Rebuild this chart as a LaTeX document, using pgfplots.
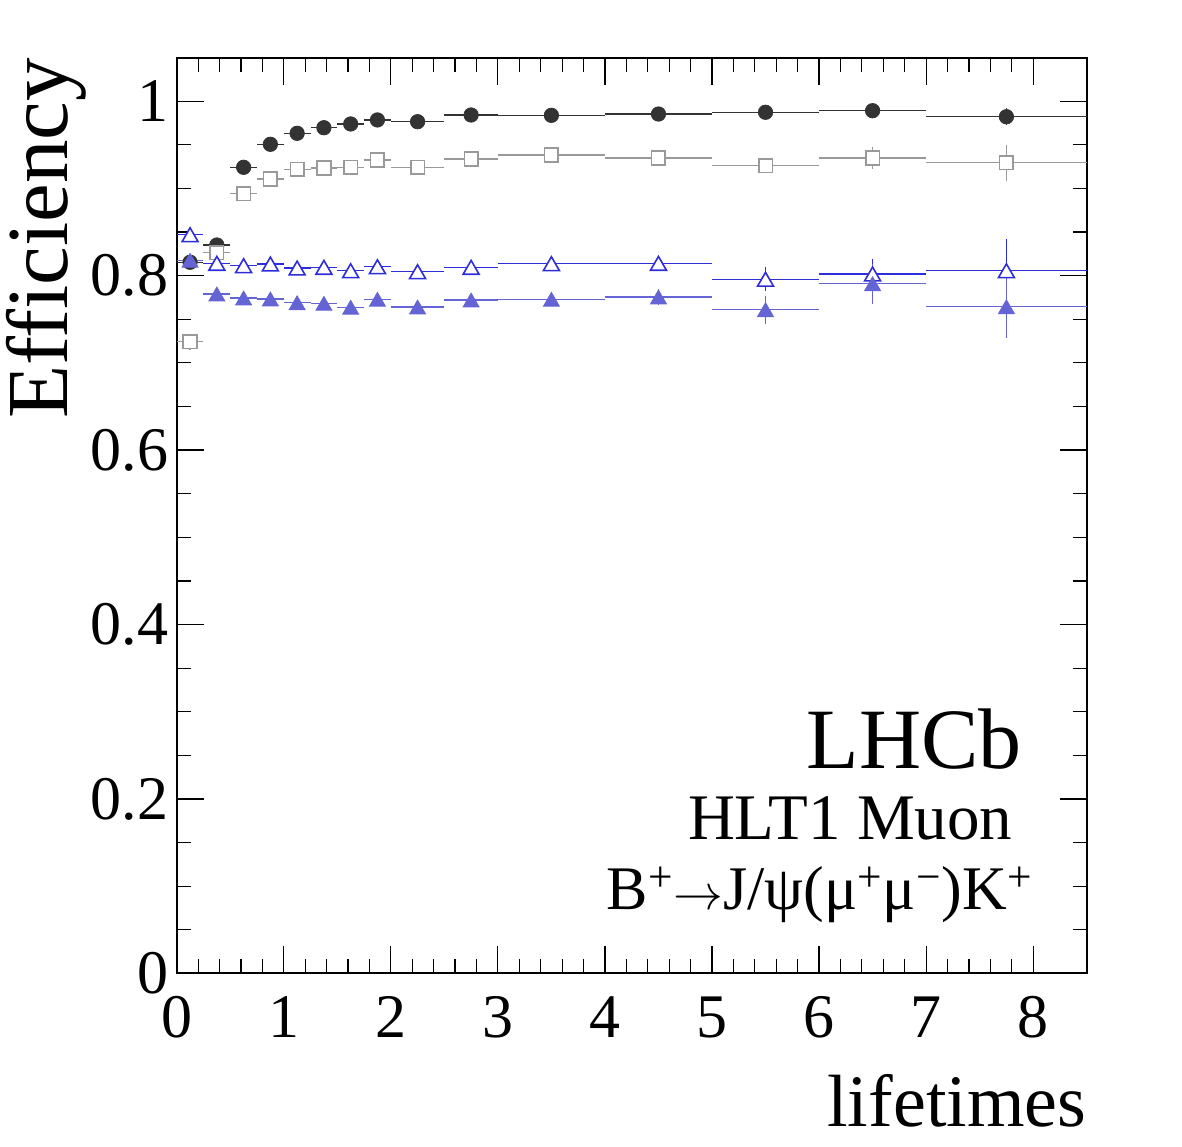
\documentclass[border=0pt]{standalone}
\usepackage{fontspec}
\setmainfont{Liberation Serif}
\usepackage{pgfplots}
\pgfplotsset{compat=1.18}
\usepackage{pgfplotstable}

\definecolor{cCirc}{RGB}{51,51,51}
\definecolor{cSq}{RGB}{153,153,153}
\definecolor{cOTri}{RGB}{45,45,220}
\definecolor{cFTri}{RGB}{100,100,212}

% bin centre, half bin width, efficiency, uncertainty
\pgfplotstableread{
x     ex     y       ey
0.125 0.125  0.8154  0.004
0.375 0.125  0.8352  0.003
0.625 0.125  0.9243  0.003
0.875 0.125  0.9507  0.002
1.125 0.125  0.9633  0.002
1.375 0.125  0.9697  0.002
1.625 0.125  0.9740  0.002
1.875 0.125  0.9786  0.002
2.25  0.25   0.9766  0.002
2.75  0.25   0.9843  0.002
3.5   0.5    0.9839  0.002
4.5   0.5    0.9854  0.002
5.5   0.5    0.9874  0.003
6.5   0.5    0.9892  0.003
7.75  0.75   0.9823  0.0095
}\tabCirc

\pgfplotstableread{
x     ex     y       ey
0.125 0.125  0.7243  0.009
0.375 0.125  0.8264  0.006
0.625 0.125  0.8940  0.004
0.875 0.125  0.9109  0.004
1.125 0.125  0.9220  0.004
1.375 0.125  0.9235  0.004
1.625 0.125  0.9243  0.004
1.875 0.125  0.9327  0.004
2.25  0.25   0.9243  0.004
2.75  0.25   0.9338  0.004
3.5   0.5    0.9384  0.005
4.5   0.5    0.9350  0.006
5.5   0.5    0.9261  0.007
6.5   0.5    0.9350  0.013
7.75  0.75   0.9296  0.0205
}\tabSq

\pgfplotstableread{
x     ex     y       ey
0.125 0.125  0.8470  0.005
0.375 0.125  0.8142  0.005
0.625 0.125  0.8115  0.004
0.875 0.125  0.8134  0.004
1.125 0.125  0.8088  0.004
1.375 0.125  0.8096  0.004
1.625 0.125  0.8057  0.004
1.875 0.125  0.8103  0.004
2.25  0.25   0.8046  0.004
2.75  0.25   0.8096  0.005
3.5   0.5    0.8138  0.005
4.5   0.5    0.8142  0.006
5.5   0.5    0.7959  0.014
6.5   0.5    0.8020  0.017
7.75  0.75   0.8057  0.036
}\tabOTri

\pgfplotstableread{
x     ex     y       ey
0.125 0.125  0.8177  0.005
0.375 0.125  0.7790  0.004
0.625 0.125  0.7744  0.004
0.875 0.125  0.7733  0.004
1.125 0.125  0.7690  0.004
1.375 0.125  0.7683  0.004
1.625 0.125  0.7638  0.004
1.875 0.125  0.7729  0.004
2.25  0.25   0.7641  0.004
2.75  0.25   0.7721  0.005
3.5   0.5    0.7729  0.006
4.5   0.5    0.7756  0.009
5.5   0.5    0.7610  0.016
6.5   0.5    0.7908  0.023
7.75  0.75   0.7644  0.036
}\tabFTri

\pgfplotsset{
  binerr/.style={draw=none, mark=none, forget plot,
    error bars/.cd, x dir=both, x explicit, y dir=both, y explicit,
    error mark=none, error bar style={draw=#1, line width=0.6pt, solid}},
}

\begin{document}
\begin{tikzpicture}
\useasboundingbox (-88.35pt,-86.35pt) rectangle (502.65pt,486.65pt);
\begin{axis}[
  scale only axis,
  width=455pt, height=457.8pt,
  xmin=0, xmax=8.5, ymin=0, ymax=1.05,
  xtick={0,1,...,8}, ytick={0,0.2,0.4,0.6,0.8,1},
  minor x tick num=4, minor y tick num=3,
  tick align=inside, tick pos=both,
  major tick length=13.5pt, minor tick length=7pt,
  axis line style={line width=1pt, black},
  tick style={line width=0.6pt, black},
  /pgf/number format/assume math mode=true,
  tick label style={font=\fontsize{31}{31}\selectfont},
  xticklabel style={anchor=north, inner sep=0pt, yshift=-11.5pt},
  yticklabel style={anchor=east, inner sep=0pt, xshift=-4pt},
  xlabel={lifetimes}, ylabel={Efficiency},
  every axis x label/.style={at={(axis description cs:1,-0.1675)}, anchor=base east, inner sep=0pt, font=\fontsize{37}{37}\selectfont},
  every axis y label/.style={at={(axis description cs:-0.1205,1)}, rotate=90, anchor=base east, inner sep=0pt, font=\fontsize{43.5}{43.5}\selectfont},
  clip=false,
]
% bin widths and uncertainties, then the markers on top
\addplot[binerr=cCirc] table[x=x, y=y, x error=ex, y error=ey]{\tabCirc};
\addplot[only marks, mark=*, mark size=3.6pt, color=cCirc] table[x=x, y=y]{\tabCirc};
\addplot[binerr=cSq] table[x=x, y=y, x error=ex, y error=ey]{\tabSq};
\addplot[only marks, mark=square*, mark size=3.4pt, mark options={fill=white, draw=cSq, line width=0.8pt}] table[x=x, y=y]{\tabSq};
\addplot[binerr=cOTri] table[x=x, y=y, x error=ex, y error=ey]{\tabOTri};
\addplot[only marks, mark=triangle*, mark size=4.6pt, mark options={fill=white, draw=cOTri, line width=0.8pt, yshift=-1.15pt}] table[x=x, y=y]{\tabOTri};
\addplot[binerr=cFTri] table[x=x, y=y, x error=ex, y error=ey]{\tabFTri};
\addplot[only marks, mark=triangle*, mark size=4.6pt, mark options={fill=cFTri, draw=cFTri, yshift=-1.15pt}] table[x=x, y=y]{\tabFTri};

\node[anchor=base east, inner sep=0pt, font=\fontsize{43}{43}\selectfont] at (axis cs:7.897,0.2354) {LHCb};
\node[anchor=base east, inner sep=0pt, font=\fontsize{32.5}{32.5}\selectfont] at (axis cs:7.81,0.1529) {HLT1 Muon};
\node[anchor=base east, inner sep=0pt, font=\fontsize{31}{31}\selectfont] at (axis cs:7.998,0.0726) {B\textsuperscript{+}${\rightarrow}$J/ψ(μ\textsuperscript{+}μ\textsuperscript{−})K\textsuperscript{+}};
\end{axis}
\end{tikzpicture}
\end{document}
